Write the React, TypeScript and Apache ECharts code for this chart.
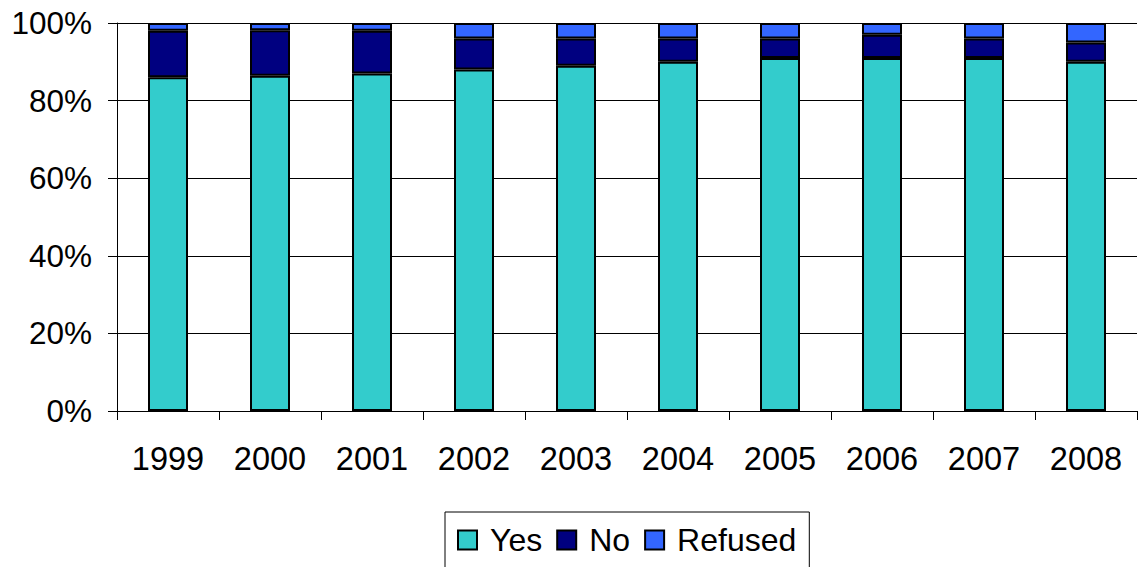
import React, { useEffect, useRef } from "react";
import * as echarts from "echarts";

const years = ["1999", "2000", "2001", "2002", "2003", "2004", "2005", "2006", "2007", "2008"];
const yesValues = [86, 86.4, 87, 88, 89, 90, 91, 91, 91, 90];
const noValues = [12, 11.7, 11, 8, 7, 6, 5, 6, 5, 5];
const refusedValues = [2, 1.9, 2, 4, 4, 4, 4, 3, 4, 5];
const yTicks = { min: 0, max: 100, interval: 20 };

const FONT = "'Liberation Sans', Arial, sans-serif";

export default function App() {
  const ref = useRef<HTMLDivElement>(null);

  useEffect(() => {
    document.body.style.margin = "0";
    const chart = echarts.init(ref.current!, null, { renderer: "svg" });
    const barStyle = (color: string) => ({
      color,
      borderColor: "#000",
      borderWidth: 2,
    });
    chart.setOption({
      animation: false,
      textStyle: { fontFamily: FONT, color: "#000" },
      grid: { left: 117, top: 23, right: 5, bottom: 156, containLabel: false },
      xAxis: {
        type: "category",
        data: years,
        axisLine: { show: true, lineStyle: { color: "#000", width: 1 } },
        axisTick: { show: true, length: 9, alignWithLabel: false, lineStyle: { color: "#000" } },
        axisLabel: { color: "#000", fontSize: 32.5, fontFamily: FONT, margin: 31 },
        splitLine: { show: false },
      },
      yAxis: {
        type: "value",
        min: yTicks.min,
        max: yTicks.max,
        interval: yTicks.interval,
        axisLine: { show: true, lineStyle: { color: "#000", width: 1 } },
        axisTick: { show: true, length: 9, lineStyle: { color: "#000" } },
        axisLabel: {
          color: "#000",
          fontSize: 31.5,
          fontFamily: FONT,
          margin: 25,
          formatter: "{value}%",
        },
        splitLine: { show: true, lineStyle: { color: "#000", width: 1 } },
      },
      legend: {
        left: 445,
        top: 512,
        orient: "horizontal",
        itemWidth: 19,
        itemHeight: 19,
        itemGap: 14,
        icon: "rect",
        borderColor: "#000",
        borderWidth: 1,
        padding: [12, 13, 30, 12],
        textStyle: { fontSize: 32, fontFamily: FONT, color: "#000", padding: [0, 0, 0, 8] },
        data: [
          { name: "Yes", itemStyle: { borderColor: "#000", borderWidth: 2 } },
          { name: "No", itemStyle: { borderColor: "#000", borderWidth: 2 } },
          { name: "Refused", itemStyle: { borderColor: "#000", borderWidth: 2 } },
        ],
      },
      series: [
        { name: "Yes", type: "bar", stack: "total", barWidth: 40, data: yesValues, itemStyle: barStyle("#33CCCC") },
        { name: "No", type: "bar", stack: "total", barWidth: 40, data: noValues, itemStyle: barStyle("#000080") },
        { name: "Refused", type: "bar", stack: "total", barWidth: 40, data: refusedValues, itemStyle: barStyle("#3366FF") },
      ],
    });
    return () => chart.dispose();
  }, []);

  return <div ref={ref} style={{ width: 1142, height: 567 }} />;
}
